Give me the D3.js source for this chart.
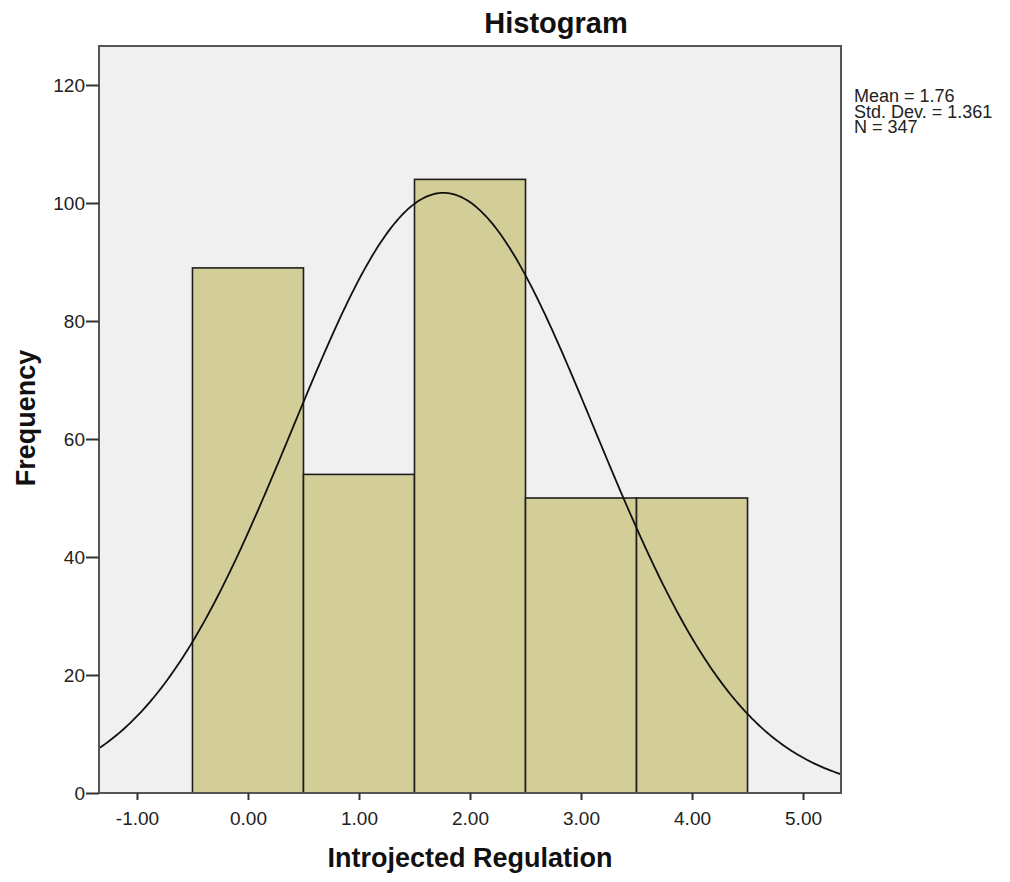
<!DOCTYPE html>
<html lang="en">
<head>
    <meta charset="UTF-8">
    <title>Histogram</title>
    <script src="https://d3js.org/d3.v7.min.js"></script>
    <style>
        body { margin: 0; background: #fff; }
        .tick text { font-family: "Liberation Sans", Arial, sans-serif; font-size: 19px; fill: #222; }
        .axis path { display: none; }
        .axis line { stroke: #333; stroke-width: 2px; }
        .title { font-family: "Liberation Sans", Arial, sans-serif; font-weight: bold; fill: #111; }
        .stats { font-family: "Liberation Sans", Arial, sans-serif; font-size: 18px; fill: #222; }
    </style>
</head>
<body>
    <svg width="1010" height="882"></svg>

    <script>
        // Bins (lower/upper edges) and counts
        const binStarts = [-0.5, 0.5, 1.5, 2.5, 3.5];
        const binEnds = [0.5, 1.5, 2.5, 3.5, 4.5];
        const counts = [89, 54, 104, 50, 50];

        // Summary stats printed next to the chart (used for the normal curve)
        const statMean = 1.76;
        const statSd = 1.361;
        const statN = 347;
        const statLabels = ["Mean = 1.76", "Std. Dev. = 1.361", "N = 347"];

        const xTicks = [-1, 0, 1, 2, 3, 4, 5];
        const yTicks = [0, 20, 40, 60, 80, 100, 120];

        // Plot frame
        const plotLeft = 99, plotRight = 841, plotTop = 46, plotBottom = 793;

        const svg = d3.select("svg");

        const x = d3.scaleLinear()
            .domain([-1.342, 5.342])
            .range([plotLeft, plotRight]);

        const y = d3.scaleLinear()
            .domain([0, 120])
            .range([plotBottom, 85]);

        // Background panel
        svg.append("rect")
            .attr("x", plotLeft)
            .attr("y", plotTop)
            .attr("width", plotRight - plotLeft)
            .attr("height", plotBottom - plotTop)
            .attr("fill", "#f0f0f0");

        // Bars
        svg.selectAll(".bar")
            .data(counts)
            .enter().append("rect")
            .attr("class", "bar")
            .attr("x", (d, i) => x(binStarts[i]))
            .attr("y", d => y(d))
            .attr("width", (d, i) => x(binEnds[i]) - x(binStarts[i]))
            .attr("height", d => plotBottom - y(d))
            .attr("fill", "#d3ce97")
            .attr("stroke", "#1e1e1e")
            .attr("stroke-width", 1.6);

        // Normal curve fitted from mean / sd / N (bin width 1)
        const binWidth = binEnds[0] - binStarts[0];
        const curveX = d3.range(x.domain()[0], x.domain()[1] + 0.001, 0.02);
        const normal = v => statN * binWidth / (statSd * Math.sqrt(2 * Math.PI)) *
            Math.exp(-0.5 * Math.pow((v - statMean) / statSd, 2));

        svg.append("path")
            .datum(curveX)
            .attr("fill", "none")
            .attr("stroke", "#111")
            .attr("stroke-width", 1.8)
            .attr("d", d3.line().x(d => x(d)).y(d => y(normal(d))));

        // Frame border
        svg.append("rect")
            .attr("x", plotLeft)
            .attr("y", plotTop)
            .attr("width", plotRight - plotLeft)
            .attr("height", plotBottom - plotTop)
            .attr("fill", "none")
            .attr("stroke", "#555")
            .attr("stroke-width", 2);

        // Y axis
        svg.append("g")
            .attr("class", "axis")
            .attr("transform", `translate(${plotLeft},0)`)
            .call(d3.axisLeft(y).tickValues(yTicks).tickSize(13).tickPadding(1).tickFormat(d => String(d)));

        // X axis (ascii hyphen for negatives, like the original)
        svg.append("g")
            .attr("class", "axis")
            .attr("transform", `translate(0,${plotBottom})`)
            .call(d3.axisBottom(x).tickValues(xTicks).tickSize(7).tickPadding(12).tickFormat(d => d.toFixed(2)));

        // Titles
        svg.append("text")
            .attr("class", "title")
            .attr("x", 556)
            .attr("y", 33)
            .attr("text-anchor", "middle")
            .attr("font-size", 29)
            .text("Histogram");

        svg.append("text")
            .attr("class", "title")
            .attr("x", 470)
            .attr("y", 867)
            .attr("text-anchor", "middle")
            .attr("font-size", 27)
            .text("Introjected Regulation");

        svg.append("text")
            .attr("class", "title")
            .attr("transform", "translate(35,418) rotate(-90)")
            .attr("text-anchor", "middle")
            .attr("font-size", 27)
            .text("Frequency");

        // Stats box: one text with a line per stat
        svg.append("text")
            .attr("class", "stats")
            .selectAll("tspan")
            .data(statLabels)
            .enter().append("tspan")
            .attr("x", 854)
            .attr("y", (d, i) => 102 + i * 15.5)
            .text(d => d);
    </script>
</body>
</html>
